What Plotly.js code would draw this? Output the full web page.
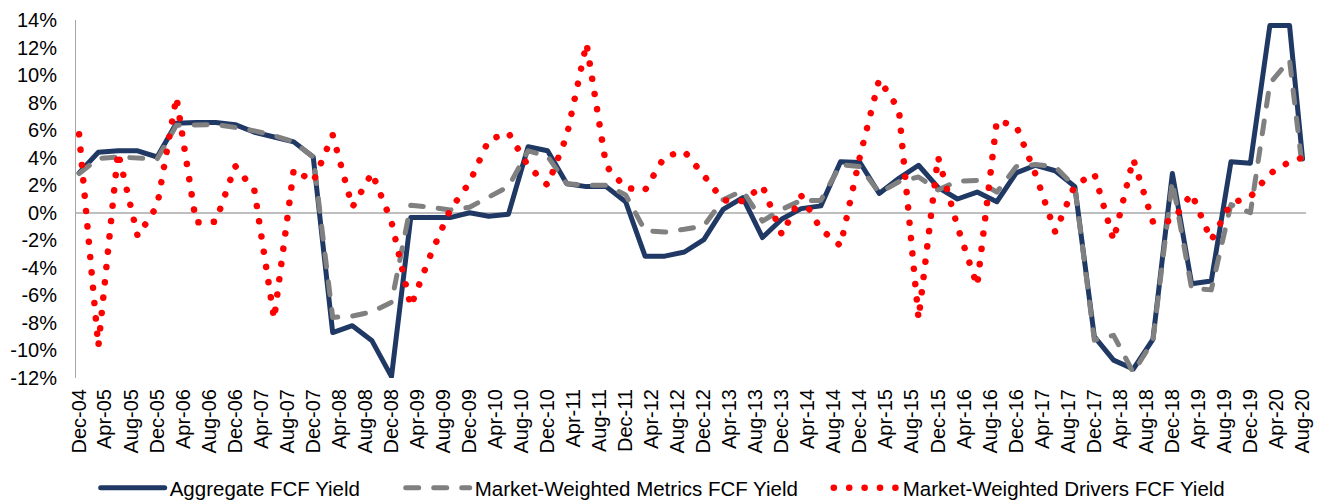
<!DOCTYPE html>
<html>
<head>
<meta charset="utf-8">
<script src="https://cdn.plot.ly/plotly-3.0.1.min.js"></script>
<style>
  html, body { margin: 0; padding: 0; background: #ffffff; }
  #chart { width: 1324px; height: 500px; }
  .js-line { stroke-linecap: round; stroke-linejoin: round; }
</style>
</head>
<body>
<div id="chart"></div>
<script>
// Quarterly observation dates (category labels)
const quarters = [
  'Dec-04','Mar-05','Jun-05','Sep-05','Dec-05','Mar-06','Jun-06','Sep-06',
  'Dec-06','Mar-07','Jun-07','Sep-07','Dec-07','Mar-08','Jun-08','Sep-08',
  'Dec-08','Mar-09','Jun-09','Sep-09','Dec-09','Mar-10','Jun-10','Sep-10',
  'Dec-10','Mar-11','Jun-11','Sep-11','Dec-11','Mar-12','Jun-12','Sep-12',
  'Dec-12','Mar-13','Jun-13','Sep-13','Dec-13','Mar-14','Jun-14','Sep-14',
  'Dec-14','Mar-15','Jun-15','Sep-15','Dec-15','Mar-16','Jun-16','Sep-16',
  'Dec-16','Mar-17','Jun-17','Sep-17','Dec-17','Mar-18','Jun-18','Sep-18',
  'Dec-18','Mar-19','Jun-19','Sep-19','Dec-19','Mar-20','Jun-20','Aug-20'
];

// Aggregate FCF Yield (%)
const aggregate = [
  2.9, 4.4, 4.5, 4.5, 4.05, 6.5, 6.55, 6.55,
  6.4, 5.85, 5.5, 5.15, 4.05, -8.7, -8.2, -9.3,
  -11.9, -0.35, -0.35, -0.35, 0.0, -0.25, -0.1, 4.8,
  4.5, 2.1, 1.9, 1.9, 0.8, -3.15, -3.15, -2.85,
  -1.95, 0.25, 1.1, -1.8, -0.45, 0.3, 0.5, 3.7,
  3.65, 1.4, 2.5, 3.45, 1.85, 1.0, 1.5, 0.8,
  2.9, 3.45, 3.05, 1.9, -9.0, -10.7, -11.35, -9.2,
  2.85, -5.15, -4.95, 3.7, 3.6, 13.6, 13.6, 3.9
];

// Market-Weighted Metrics FCF Yield (%)
const metrics = [
  2.85, 3.95, 4.05, 4.0, 3.9, 6.35, 6.4, 6.4,
  6.2, 5.95, 5.6, 5.15, 4.05, -7.6, -7.5, -7.2,
  -6.5, 0.55, 0.4, 0.2, 0.4, 1.1, 1.9, 4.5,
  4.1, 2.1, 2.0, 2.0, 1.3, -1.3, -1.4, -1.2,
  -0.95, 0.95, 1.6, -0.6, 0.25, 0.9, 0.9, 3.5,
  3.35, 1.45, 2.25, 2.6, 1.65, 2.3, 2.35, 1.5,
  3.35, 3.5, 3.35, 1.9, -9.25, -8.9, -11.6, -9.3,
  2.3, -5.5, -5.6, 0.6, 0.0, 9.4, 11.1, 3.1
];

// Market-Weighted Drivers FCF Yield (%)
const drivers = [
  5.7, -9.7, 4.4, -1.7, 0.5, 8.4, -0.7, -0.65,
  3.4, 1.6, -7.7, 3.15, 2.25, 5.65, 0.4, 2.9,
  -0.65, -6.8, -3.1, 0.2, 2.2, 5.3, 5.8, 3.4,
  2.0, 5.6, 12.3, 3.4, 1.8, 1.65, 4.1, 4.45,
  2.7, 0.9, 0.85, 1.95, -1.6, 1.25, -1.2, -2.4,
  4.1, 9.7, 7.5, -7.7, 4.05, -1.0, -5.3, 6.7,
  6.3, 2.8, -1.4, 2.0, 2.85, -2.0, 3.9, -0.65,
  -0.6, 1.4, -2.0, 0.7, 1.15, 2.85, 3.7, 4.0
];

const seriesNames = ['Aggregate FCF Yield', 'Market-Weighted Metrics FCF Yield', 'Market-Weighted Drivers FCF Yield'];

// Y axis tick labels
const yTickVals = [-12, -10, -8, -6, -4, -2, 0, 2, 4, 6, 8, 10, 12, 14];
const yTickText = ['-12%', '-10%', '-8%', '-6%', '-4%', '-2%', '0%', '2%', '4%', '6%', '8%', '10%', '12%', '14%'];

const monthIdx = {Jan:1,Feb:2,Mar:3,Apr:4,May:5,Jun:6,Jul:7,Aug:8,Sep:9,Oct:10,Nov:11,Dec:12};
function toDate(lbl) {
  const [m, y] = lbl.split('-');
  const mm = String(monthIdx[m]).padStart(2, '0');
  return '20' + y + '-' + mm + '-15';
}
const xDates = quarters.map(toDate);

const traces = [
  {
    x: xDates, y: aggregate, name: seriesNames[0], type: 'scatter', mode: 'lines',
    legend: 'legend',
    line: { color: '#1F3864', width: 5 }
  },
  {
    x: xDates, y: metrics, name: seriesNames[1], type: 'scatter', mode: 'lines',
    legend: 'legend2',
    line: { color: '#808080', width: 5, dash: '13px,15px' }
  },
  {
    x: xDates, y: drivers, name: seriesNames[2], type: 'scatter', mode: 'lines',
    legend: 'legend3',
    line: { color: '#FF0000', width: 6.5, dash: '0.1px,15.3px' }
  }
];

const fontFam = '"Liberation Sans", Arial, sans-serif';
function legendAt(xp) {
  return {
    orientation: 'h', x: xp, xanchor: 'left', y: -0.307, yanchor: 'middle',
    font: { family: fontFam, size: 20.5, color: '#000000' },
    itemwidth: 64, bgcolor: 'rgba(0,0,0,0)', borderwidth: 0
  };
}

const layout = {
  width: 1324, height: 500,
  margin: { l: 76, r: 18, t: 20, b: 122, autoexpand: false },
  paper_bgcolor: '#ffffff', plot_bgcolor: '#ffffff',
  font: { family: fontFam, size: 20, color: '#000000' },
  showlegend: true,
  legend: legendAt(0.016),
  legend2: legendAt(0.264),
  legend3: legendAt(0.612),
  xaxis: {
    type: 'date',
    range: ['2004-11-30 12:00', '2020-08-31'],
    tick0: '2004-12-15', dtick: 'M4', tickformat: '%b-%y',
    tickangle: -90, showgrid: false, showline: false, zeroline: false,
    ticks: '', tickfont: { family: fontFam, size: 20, color: '#000000' },
    ticklabelstandoff: 6
  },
  yaxis: {
    range: [-12, 14], tickvals: yTickVals, ticktext: yTickText,
    showgrid: false, showline: true, linecolor: '#A6A6A6', linewidth: 1,
    zeroline: true, zerolinecolor: '#BFBFBF', zerolinewidth: 1.5,
    ticks: '', tickfont: { family: fontFam, size: 20, color: '#000000' },
    ticklabelstandoff: 14
  },
  hovermode: false
};

Plotly.newPlot('chart', traces, layout, { staticPlot: true, displayModeBar: false });
</script>
</body>
</html>
